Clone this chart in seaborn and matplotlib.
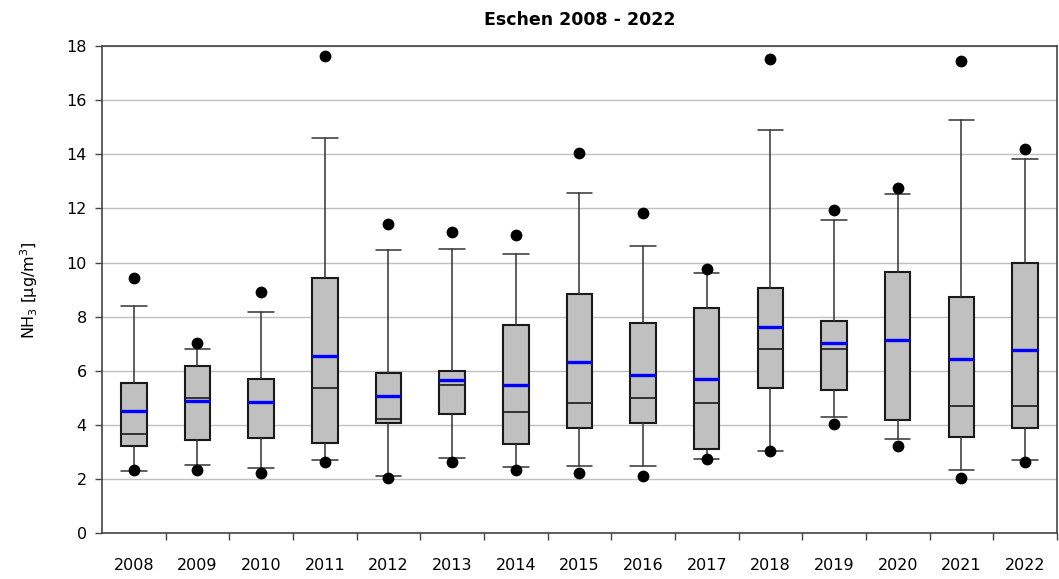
import matplotlib
matplotlib.use("Agg")
import matplotlib.pyplot as plt
import seaborn as sns
import pandas as pd
from matplotlib.ticker import FixedLocator, NullFormatter

# Annual NH3 statistics at Eschen (µg/m³)
years = ["2008", "2009", "2010", "2011", "2012", "2013", "2014", "2015",
         "2016", "2017", "2018", "2019", "2020", "2021", "2022"]
minimum = [2.34, 2.34, 2.24, 2.64, 2.04, 2.64, 2.34, 2.24, 2.13, 2.74, 3.04, 4.04, 3.23, 2.06, 2.63]
whisker_low = [2.31, 2.54, 2.41, 2.72, 2.12, 2.80, 2.45, 2.48, 2.50, 2.74, 3.04, 4.31, 3.48, 2.33, 2.70]
q1 = [3.24, 3.46, 3.51, 3.35, 4.09, 4.40, 3.30, 3.90, 4.09, 3.11, 5.39, 5.30, 4.20, 3.56, 3.88]
median = [3.69, 4.99, 4.80, 5.39, 4.21, 5.50, 4.50, 4.80, 4.99, 4.80, 6.80, 6.80, 7.10, 4.69, 4.70]
mean = [4.53, 4.89, 4.85, 6.56, 5.09, 5.66, 5.47, 6.34, 5.87, 5.70, 7.61, 7.04, 7.15, 6.46, 6.76]
q3 = [5.55, 6.19, 5.70, 9.44, 5.91, 6.00, 7.69, 8.84, 7.78, 8.31, 9.05, 7.83, 9.64, 8.72, 9.98]
whisker_high = [8.40, 6.80, 8.18, 14.59, 10.46, 10.51, 10.31, 12.58, 10.62, 9.60, 14.89, 11.58, 12.53, 15.25, 13.83]
maximum = [9.44, 7.04, 8.92, 17.63, 11.43, 11.13, 11.03, 14.03, 11.84, 9.75, 17.52, 11.93, 12.74, 17.45, 14.19]

sns.set_theme(style="white")
plt.rcParams["font.family"] = ["DejaVu Sans"]

fig = plt.figure(figsize=(10.59, 5.79), dpi=100)
ax = fig.add_axes([0.0963, 0.0786, 0.9017, 0.842])

positions = list(range(len(years)))
stats = []
for i, y in enumerate(years):
    stats.append(dict(label=y, whislo=whisker_low[i], q1=q1[i], med=median[i],
                      mean=mean[i], q3=q3[i], whishi=whisker_high[i], fliers=[]))

ax.bxp(stats, positions=positions, widths=0.4, patch_artist=True,
       showmeans=True, meanline=True, showfliers=False,
       boxprops=dict(facecolor="#c0c0c0", edgecolor="#1a1a1a", linewidth=1.5),
       medianprops=dict(color="#1a1a1a", linewidth=1.2),
       meanprops=dict(color="#0000ff", linewidth=2.4, linestyle="-"),
       whiskerprops=dict(color="#333333", linewidth=1.1),
       capprops=dict(color="#333333", linewidth=1.1),
       capwidths=0.4, manage_ticks=False, zorder=3)

# minimum / maximum markers
ext = pd.DataFrame({
    "pos": positions * 2,
    "value": minimum + maximum,
})
sns.scatterplot(data=ext, x="pos", y="value", ax=ax, color="black", s=72,
                edgecolor="black", linewidth=0, zorder=4, legend=False)

ax.set_xlim(-0.5, len(years) - 0.5)
ax.set_ylim(0, 18)
ax.set_yticks(range(0, 19, 2))
ax.yaxis.grid(True, color="#c0c0c0", linewidth=1.0, zorder=0)
ax.set_axisbelow(True)

ax.set_xticks(positions)
ax.set_xticklabels(years)
ax.xaxis.set_minor_locator(FixedLocator([p + 0.5 for p in positions]))
ax.xaxis.set_minor_formatter(NullFormatter())
ax.tick_params(axis="x", which="major", length=0, pad=18, labelsize=11.5, colors="black")
ax.tick_params(axis="x", which="minor", length=5, width=1, color="#444444", direction="out", bottom=True)
ax.tick_params(axis="y", which="major", length=5, width=1, color="#444444", direction="out", left=True,
               labelsize=11.5, labelcolor="black", pad=6)

for side in ["left", "bottom", "top", "right"]:
    ax.spines[side].set_visible(True)
    ax.spines[side].set_color("#444444")
    ax.spines[side].set_linewidth(1.2)

ax.set_xlabel("")
ax.set_ylabel("NH$_3$ [µg/m$^3$]", fontsize=11.5, color="black", labelpad=19)
ax.set_title("Eschen 2008 - 2022", fontsize=12.5, fontweight="bold", color="black", pad=15)

fig.savefig("out.png", dpi=100)
